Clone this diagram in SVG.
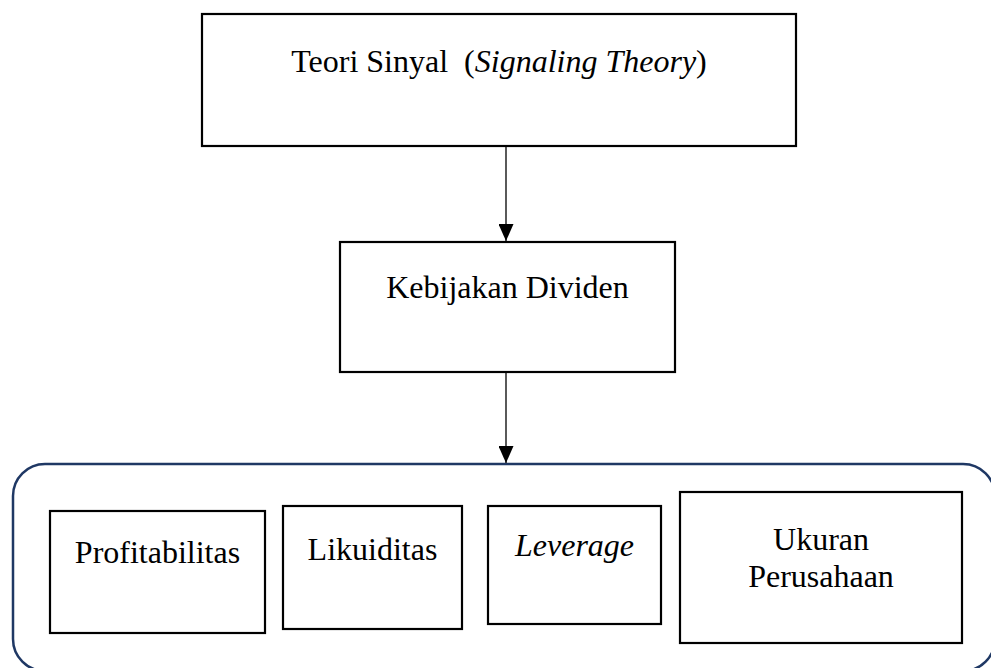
<svg xmlns="http://www.w3.org/2000/svg" width="991" height="668" viewBox="0 0 991 668">
<style>
.box{fill:#fff;stroke:#000;stroke-width:2.2}
.t{font-family:"Liberation Serif","Times New Roman",serif;font-size:32px;fill:#000;text-anchor:middle;white-space:pre}
.i{font-style:italic}
.c{stroke:#000;stroke-width:1.3;fill:none}
</style>
<defs>
<marker id="ah" markerWidth="17" markerHeight="15" refX="17" refY="7.5" orient="auto" markerUnits="userSpaceOnUse" viewBox="0 0 17 15">
<path d="M0,0 L17,7.5 L0,15 Z" fill="#000"/>
</marker>
</defs>
<g id="group">
<rect x="13" y="464" width="982" height="207" rx="32" ry="32" fill="#fff" stroke="#1f3864" stroke-width="2.5"/>
</g>
<g id="connectors">
<line class="c" x1="506" y1="147" x2="506" y2="241" marker-end="url(#ah)"/>
<line class="c" x1="506" y1="373" x2="506" y2="463" marker-end="url(#ah)"/>
</g>
<g id="teori">
<rect class="box" x="202" y="14" width="594" height="132" stroke-width="2.8"/>
<text class="t" x="499" y="72" xml:space="preserve">Teori Sinyal  (<tspan class="i">Signaling Theory</tspan>)</text>
</g>
<g id="kebijakan">
<rect class="box" x="340" y="242" width="335" height="130"/>
<text class="t" x="507.5" y="298">Kebijakan Dividen</text>
</g>
<g id="profitabilitas">
<rect class="box" x="50" y="511" width="215" height="122"/>
<text class="t" x="157.5" y="563">Profitabilitas</text>
</g>
<g id="likuiditas">
<rect class="box" x="283" y="506" width="179" height="123"/>
<text class="t" x="372.5" y="560">Likuiditas</text>
</g>
<g id="leverage">
<rect class="box" x="488" y="506" width="173" height="118"/>
<text class="t i" x="574.5" y="556">Leverage</text>
</g>
<g id="ukuran">
<rect class="box" x="680" y="492" width="282" height="151"/>
<text class="t" x="821" y="550">Ukuran</text>
<text class="t" x="821" y="587">Perusahaan</text>
</g>
</svg>
